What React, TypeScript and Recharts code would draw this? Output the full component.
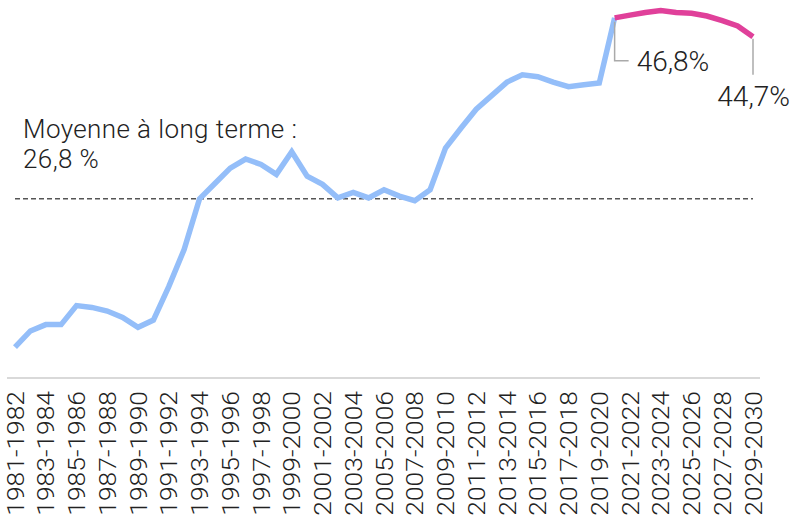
import { LineChart, Line, XAxis, YAxis, ReferenceLine } from "recharts";

// Périodes 1981-1982 ... 2029-2030
const periods: string[] = Array.from({ length: 49 }, (_, i) => `${1981 + i}-${1982 + i}`);

// Taux historique (jusqu'à 2020-2021)
const historique: number[] = [
  10.4, 12.2, 12.9, 12.9, 15.0, 14.8, 14.4, 13.7, 12.6, 13.4,
  17.1, 21.2, 26.8, 28.5, 30.2, 31.2, 30.6, 29.5, 32.0, 29.3,
  28.4, 26.9, 27.5, 26.9, 27.8, 27.1, 26.6, 27.8, 32.4, 34.6,
  36.7, 38.2, 39.7, 40.5, 40.3, 39.7, 39.2, 39.4, 39.6, 46.8,
];

// Projection (2020-2021 à 2029-2030)
const projection: number[] = [46.8, 47.1, 47.4, 47.6, 47.4, 47.3, 47.0, 46.5, 45.9, 44.7];

const moyenne = 26.8;

const data = periods.map((p, i) => ({
  periode: p,
  historique: i < historique.length ? historique[i] : null,
  projection: i >= periods.length - projection.length ? projection[i - (periods.length - projection.length)] : null,
}));

const FONT = "Roboto, 'Liberation Sans', Arial, sans-serif";
const fmt = (v: number) => v.toFixed(1).replace(".", ",") + "%";

const PeriodTick = (props: any) => {
  const { x, payload } = props;
  return (
    <g transform={`translate(${x},391) rotate(-90) scale(1.1,1)`}>
      <text
        x={0}
        y={0}
        dy="0.36em"
        textAnchor="end"
        fontSize={24}
        fontWeight={300}
        fontFamily={FONT}
        fill="#222"
      >
        {payload.value}
      </text>
    </g>
  );
};

const EndLabel = (props: any) => {
  const { x, y, index, value } = props;
  const first = periods.length - projection.length;
  if (value == null) return null;
  if (index === first) {
    return (
      <g>
        <path d={`M${x},${y + 4}V${y + 43}H${x + 14}`} stroke="#aaa" strokeWidth={1.5} fill="none" />
        <text x={x + 22} y={y + 53} fontSize={28} fontWeight={300} fontFamily={FONT} fill="#222">
          {fmt(value)}
        </text>
      </g>
    );
  }
  if (index === periods.length - 1) {
    return (
      <g>
        <path d={`M${x},${y + 2}V${y + 38}`} stroke="#aaa" strokeWidth={1.5} fill="none" />
        <text x={x + 37} y={y + 69} textAnchor="end" fontSize={28} fontWeight={300} fontFamily={FONT} fill="#222">
          {fmt(value)}
        </text>
      </g>
    );
  }
  return null;
};

const MoyenneLabel = (props: any) => {
  const { viewBox } = props;
  const x = viewBox.x + 8;
  const y = viewBox.y;
  return (
    <text fontSize={26} fontWeight={300} fontFamily={FONT} fill="#222" letterSpacing={0.4}>
      <tspan x={x} y={y - 61}>Moyenne à long terme :</tspan>
      <tspan x={x} y={y - 31}>{moyenne.toFixed(1).replace(".", ",")} %</tspan>
    </text>
  );
};

export default function App() {
  return (
    <div style={{ position: "absolute", left: 0, top: 0, background: "#fff" }}>
      <LineChart
        width={792}
        height={524}
        data={data}
        margin={{ top: 7, right: 32, bottom: 0, left: 7 }}
      >
        <XAxis
          dataKey="periode"
          interval={1}
          height={146}
          tickLine={false}
          axisLine={{ stroke: "#d9d9d9", strokeWidth: 2 }}
          padding={{ left: 8, right: 7 }}
          tick={<PeriodTick />}
        />
        <YAxis hide domain={[7, 48]} />
        <ReferenceLine
          segment={[
            { x: periods[0], y: moyenne },
            { x: periods[periods.length - 1], y: moyenne },
          ]}
          stroke="#555"
          strokeWidth={1.5}
          strokeDasharray="5 3"
          label={<MoyenneLabel />}
        />
        <Line
          type="linear"
          dataKey="historique"
          stroke="#94bef9"
          strokeWidth={5.5}
          dot={false}
          isAnimationActive={false}
        />
        <Line
          type="linear"
          dataKey="projection"
          stroke="#e0409a"
          strokeWidth={5.5}
          dot={false}
          isAnimationActive={false}
          label={<EndLabel />}
        />
      </LineChart>
    </div>
  );
}
